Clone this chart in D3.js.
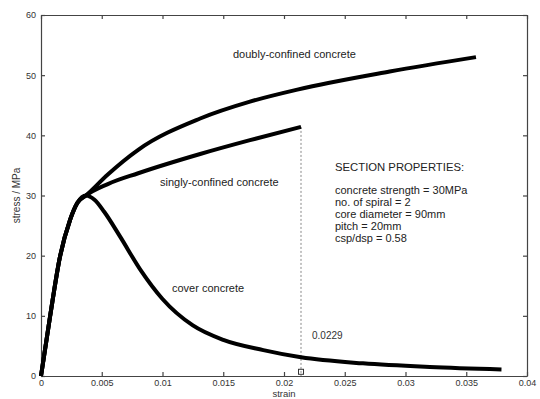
<!DOCTYPE html>
<html>
<head>
<meta charset="utf-8">
<script src="https://cdn.jsdelivr.net/npm/d3@7"></script>
<style>
  body { margin: 0; background: #fff; }
  svg { display: block; font-family: "Liberation Sans", Arial, sans-serif; }
</style>
</head>
<body>
<div id="visualization"></div>
<script>
// values (strain, stress in MPa)
const coverStrain = [0, 0.00074, 0.00156, 0.0024, 0.0030, 0.0037, 0.0044, 0.0052, 0.0065, 0.0082, 0.010, 0.0125, 0.015, 0.0183, 0.0214, 0.0265, 0.032, 0.0379];
const coverStress = [0, 9.8, 19.8, 26.0, 28.8, 30.0, 29.3, 27.3, 23.2, 17.6, 12.8, 8.4, 6.0, 4.3, 3.1, 2.1, 1.5, 1.1];

const singlyStrain = [0, 0.00074, 0.00156, 0.0024, 0.0030, 0.0037, 0.0055, 0.008, 0.0131, 0.0172, 0.0214];
const singlyStress = [0, 9.8, 19.8, 26.0, 28.8, 30.0, 31.9, 33.7, 36.9, 39.2, 41.4];

const doublyStrain = [0, 0.00074, 0.00156, 0.0024, 0.0030, 0.0037, 0.0055, 0.008, 0.0131, 0.0172, 0.0211, 0.0287, 0.0358];
const doublyStress = [0, 9.8, 19.8, 26.0, 28.8, 30.0, 33.5, 37.6, 42.8, 45.6, 47.6, 50.6, 53.0];

const xTicks = [0, 0.005, 0.01, 0.015, 0.02, 0.025, 0.03, 0.035, 0.04];
const xTickLabels = ["0", "0.005", "0.01", "0.015", "0.02", "0.025", "0.03", "0.035", "0.04"];
const yTicks = [0, 10, 20, 30, 40, 50, 60];

const markStrain = 0.0214; // where the singly-confined curve stops
const markLabel = "0.0229";

const sectionLines = [
  "concrete strength = 30MPa",
  "no. of spiral = 2",
  "core diameter = 90mm",
  "pitch = 20mm",
  "csp/dsp = 0.58"
];

const width = 540;
const height = 399;
const margin = {top: 15, bottom: 23, right: 13, left: 41};

const svg = d3.select("#visualization").append("svg")
  .attr("width", width)
  .attr("height", height)
  .attr("viewBox", [0, 0, width, height]);

const x = d3.scaleLinear().domain([0, 0.04]).range([margin.left, width - margin.right]);
const y = d3.scaleLinear().domain([0, 60]).range([height - margin.bottom, margin.top]);

const axisColour = "#444";

// bottom axis
svg.append("g")
  .attr("transform", `translate(0,${y(0)})`)
  .call(d3.axisBottom(x).tickValues(xTicks).tickFormat((d, i) => xTickLabels[i]).tickSizeInner(-4).tickSizeOuter(0).tickPadding(4))
  .call(g => g.selectAll("text").attr("font-size", 9).attr("fill", "#333"));

// left axis
svg.append("g")
  .attr("transform", `translate(${x(0)},0)`)
  .call(d3.axisLeft(y).tickValues(yTicks).tickSizeInner(-4).tickSizeOuter(0).tickPadding(5))
  .call(g => g.selectAll("text").attr("font-size", 9).attr("fill", "#333"));

// top and right mirror axes
svg.append("g")
  .attr("transform", `translate(0,${y(60)})`)
  .call(d3.axisTop(x).tickValues(xTicks).tickFormat("").tickSizeInner(-4).tickSizeOuter(0));

svg.append("g")
  .attr("transform", `translate(${x(0.04)},0)`)
  .call(d3.axisRight(y).tickValues(yTicks).tickFormat("").tickSizeInner(-4).tickSizeOuter(0));

svg.selectAll(".domain, .tick line").attr("stroke", axisColour).attr("stroke-width", 1.2);

// axis titles
svg.append("text")
  .attr("x", (x(0) + x(0.04)) / 2)
  .attr("y", 397)
  .attr("text-anchor", "middle")
  .attr("font-size", 9.5)
  .attr("fill", "#333")
  .text("strain");

svg.append("text")
  .attr("transform", `translate(20,${(y(0) + y(60)) / 2}) rotate(-90)`)
  .attr("text-anchor", "middle")
  .attr("font-size", 10)
  .attr("fill", "#333")
  .text("stress / MPa");

// dotted marker line at the end of the singly-confined curve
const singlyEnd = singlyStress[singlyStress.length - 1];
svg.append("line")
  .attr("x1", x(markStrain)).attr("x2", x(markStrain))
  .attr("y1", y(singlyEnd)).attr("y2", y(0))
  .attr("stroke", "#888")
  .attr("stroke-width", 1)
  .attr("stroke-dasharray", "2,2");

svg.append("rect")
  .attr("x", x(markStrain) - 2.5)
  .attr("y", y(0.7) - 2.5)
  .attr("width", 5)
  .attr("height", 5)
  .attr("fill", "none")
  .attr("stroke", "#333")
  .attr("stroke-width", 1);

svg.append("text")
  .attr("x", x(markStrain) + 11)
  .attr("y", y(6.7))
  .attr("dy", "0.35em")
  .attr("font-size", 10)
  .attr("fill", "#333")
  .text(markLabel);

// curves
const line = d3.line()
  .x(d => x(d[0]))
  .y(d => y(d[1]))
  .curve(d3.curveMonotoneX);

const series = [
  {name: "doubly", points: d3.zip(doublyStrain, doublyStress)},
  {name: "singly", points: d3.zip(singlyStrain, singlyStress)},
  {name: "cover", points: d3.zip(coverStrain, coverStress)}
];

svg.append("g")
  .selectAll("path")
  .data(series)
  .join("path")
  .attr("d", d => line(d.points))
  .attr("fill", "none")
  .attr("stroke", "#000")
  .attr("stroke-width", 4)
  .attr("stroke-linejoin", "round")
  .attr("stroke-linecap", "butt");

// curve labels
const labels = [
  {text: "doubly-confined concrete", px: 233, py: 54},
  {text: "singly-confined concrete", px: 160, py: 182},
  {text: "cover concrete", px: 172, py: 288}
];

svg.append("g")
  .selectAll("text")
  .data(labels)
  .join("text")
  .attr("x", d => d.px)
  .attr("y", d => d.py)
  .attr("dy", "0.35em")
  .attr("font-size", 11)
  .attr("fill", "#222")
  .text(d => d.text);

// section properties block
const block = svg.append("g").attr("transform", "translate(335,167)");
block.append("text")
  .attr("dy", "0.35em")
  .attr("font-size", 11.3)
  .attr("fill", "#222")
  .text("SECTION PROPERTIES:");

block.selectAll("text.prop")
  .data(sectionLines)
  .join("text")
  .attr("class", "prop")
  .attr("y", (d, i) => 23 + i * 12)
  .attr("dy", "0.35em")
  .attr("font-size", 11)
  .attr("fill", "#222")
  .text(d => d);
</script>
</body>
</html>
